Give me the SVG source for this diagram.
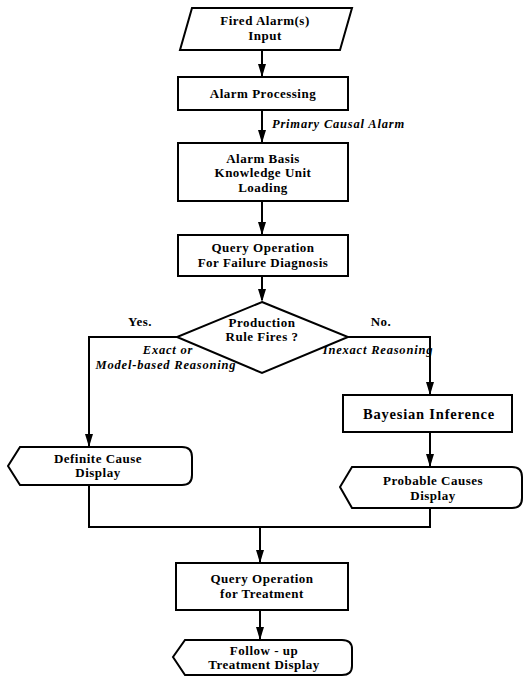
<svg xmlns="http://www.w3.org/2000/svg" width="527" height="683" viewBox="0 0 527 683">
<style>
.sh{fill:#fff;stroke:#000;stroke-width:2;stroke-linejoin:miter}
.t{font-family:"Liberation Serif","DejaVu Serif",serif;font-weight:bold;font-size:13px;text-anchor:middle;fill:#000;letter-spacing:0.5px}
.i{font-family:"Liberation Serif","DejaVu Serif",serif;font-weight:bold;font-style:italic;font-size:12.5px;fill:#000;letter-spacing:0.8px}
.c{fill:none;stroke:#000;stroke-width:2}
</style>
<rect width="527" height="683" fill="#fff"/>
<g id="connectors">
<line class="c" x1="262" y1="50" x2="262" y2="76"/>
<line class="c" x1="262" y1="110" x2="262" y2="142"/>
<line class="c" x1="262" y1="201" x2="262" y2="234"/>
<line class="c" x1="262" y1="276" x2="262" y2="300"/>
<polyline class="c" points="177,337 89,337 89,446"/>
<polyline class="c" points="348,337 430,337 430,394"/>
<line class="c" x1="430" y1="432" x2="430" y2="466"/>
<polyline class="c" points="89,485 89,527 430,527 430,508"/>
<line class="c" x1="260" y1="527" x2="260" y2="562"/>
<line class="c" x1="260" y1="610" x2="260" y2="639"/>
<g fill="#000">
<path d="M258,64 L262,77 L266,64 Z"/>
<path d="M258,130 L262,143 L266,130 Z"/>
<path d="M258,222 L262,235 L266,222 Z"/>
<path d="M258,289 L262,302 L266,289 Z"/>
<path d="M85,434 L89,447 L93,434 Z"/>
<path d="M426,382 L430,395 L434,382 Z"/>
<path d="M426,454 L430,467 L434,454 Z"/>
<path d="M256,550 L260,563 L264,550 Z"/>
<path d="M256,627 L260,640 L264,627 Z"/>
</g>
<text class="i" x="272" y="128">Primary Causal Alarm</text>
<text class="t" x="140" y="326">Yes.</text>
<text class="t" x="381" y="326">No.</text>
<text class="i" x="168" y="354" text-anchor="middle">Exact or</text>
<text class="i" x="166" y="369" text-anchor="middle">Model-based Reasoning</text>
<text class="i" x="378" y="354" text-anchor="middle">Inexact Reasoning</text>
</g>
<g id="fired-alarm">
<path class="sh" d="M192,8 L352,8 L340,50 L180,50 Z"/>
<text class="t" x="265" y="25">Fired Alarm(s)</text>
<text class="t" x="265" y="40">Input</text>
</g>
<g id="alarm-processing">
<rect class="sh" x="178" y="77" width="170" height="33"/>
<text class="t" x="263" y="98">Alarm Processing</text>
</g>
<g id="alarm-basis">
<rect class="sh" x="178" y="143" width="170" height="58"/>
<text class="t" x="263" y="163">Alarm Basis</text>
<text class="t" x="263" y="177">Knowledge Unit</text>
<text class="t" x="263" y="192">Loading</text>
</g>
<g id="query-diagnosis">
<rect class="sh" x="178" y="235" width="170" height="41"/>
<text class="t" x="263" y="252">Query Operation</text>
<text class="t" x="263" y="267">For Failure Diagnosis</text>
</g>
<g id="production-rule">
<path class="sh" d="M262,302 L348,337 L262,373 L177,337 Z"/>
<text class="t" x="262" y="327">Production</text>
<text class="t" x="262" y="341">Rule Fires ?</text>
</g>
<g id="definite-cause">
<path class="sh" d="M20,447 H182 Q192,447 192,457 V475 Q192,485 182,485 H20 L8,466 Z"/>
<text class="t" x="98" y="463">Definite Cause</text>
<text class="t" x="98" y="477">Display</text>
</g>
<g id="bayesian">
<rect class="sh" x="343" y="395" width="169" height="37"/>
<text class="t" x="429" y="419" style="font-size:14.5px;letter-spacing:0.8px">Bayesian Inference</text>
</g>
<g id="probable-causes">
<path class="sh" d="M352,467 H512 Q522,467 522,477 V498 Q522,508 512,508 H352 L340,487 Z"/>
<text class="t" x="433" y="485">Probable Causes</text>
<text class="t" x="433" y="500">Display</text>
</g>
<g id="query-treatment">
<rect class="sh" x="176" y="563" width="172" height="47"/>
<text class="t" x="262" y="583">Query Operation</text>
<text class="t" x="262" y="598">for Treatment</text>
</g>
<g id="follow-up">
<path class="sh" d="M185,640 H342 Q352,640 352,649 V666 Q352,675 342,675 H185 L173,657 Z"/>
<text class="t" x="264" y="655">Follow - up</text>
<text class="t" x="264" y="669">Treatment Display</text>
</g>
</svg>
